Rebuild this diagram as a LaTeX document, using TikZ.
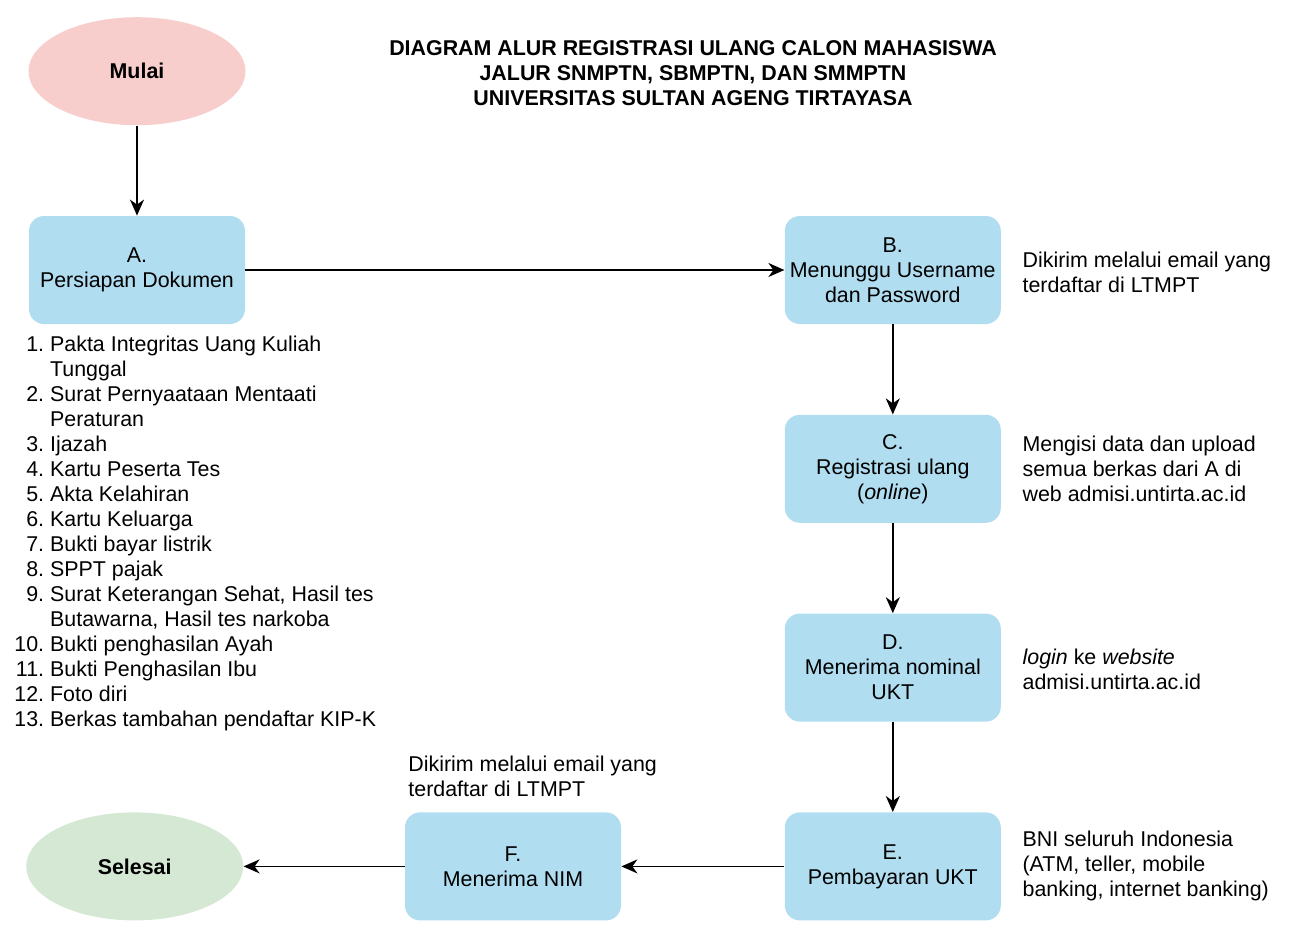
\documentclass[tikz,border=0pt]{standalone}
\usepackage{fontspec}
\setmainfont{Liberation Sans}
\usetikzlibrary{shapes.geometric,arrows.meta,positioning}
\definecolor{mulaipink}{HTML}{F8CECC}
\definecolor{langkahblue}{HTML}{B1DDF0}
\definecolor{selesaigreen}{HTML}{D5E8D4}

\begin{document}
\begin{tikzpicture}[x=0.5pt,y=-0.5pt,
  font=\fontsize{10.7}{12.5}\selectfont,
  langkah/.style={rectangle, rounded corners=7.5pt, fill=langkahblue, minimum width=108pt, minimum height=54pt, align=center, inner sep=0},
  terminal/.style={ellipse, minimum width=108.5pt, minimum height=54pt, inner sep=0, font=\fontsize{10.7}{12.5}\selectfont\bfseries},
  catatan/.style={align=left, inner sep=0},
  alur/.style={-{Stealth[length=8pt,width=7pt,inset=2.5pt]}, line width=0.9pt}]

\useasboundingbox (0,0) rectangle (1291,942);

% judul
\node[align=center, font=\fontsize{10.7}{12.5}\selectfont\bfseries] (judul) at (693,73)
  {DIAGRAM ALUR REGISTRASI ULANG CALON MAHASISWA\\JALUR SNMPTN, SBMPTN, DAN SMMPTN\\UNIVERSITAS SULTAN AGENG TIRTAYASA};

% langkah-langkah
\node[langkah] (A) at (137,270) {A.\\Persiapan Dokumen};
\node[terminal, fill=mulaipink, above=45pt of A] (mulai) {Mulai};
\node[langkah, right=269.5pt of A] (B) {B.\\Menunggu Username\\dan Password};
\node[langkah, below=45pt of B] (C) {C.\\Registrasi ulang\\(\textit{online})};
\node[langkah, below=45pt of C] (D) {D.\\Menerima nominal\\UKT};
\node[langkah, below=45pt of D] (E) {E.\\Pembayaran UKT};
\node[langkah, left=81.5pt of E] (F) {F.\\Menerima NIM};
\node[terminal, fill=selesaigreen, left=80.5pt of F] (selesai) {Selesai};

% catatan
\node[catatan, right=10.5pt of B, yshift=-1pt] (catB) {Dikirim melalui email yang\\terdaftar di LTMPT};
\node[catatan, right=10.5pt of C] (catC) {Mengisi data dan upload\\semua berkas dari A di\\web admisi.untirta.ac.id};
\node[catatan, right=10.5pt of D, yshift=-1pt] (catD) {\textit{login} ke \textit{website}\\admisi.untirta.ac.id};
\node[catatan, right=10.5pt of E] (catE) {BNI seluruh Indonesia\\(ATM, teller, mobile\\banking, internet banking)};
\node[catatan, anchor=west] (catF) at (408,776) {Dikirim melalui email yang\\terdaftar di LTMPT};

\node[catatan, anchor=north west] (berkas) at (14,334) {%
  \begin{tabular}{@{}r@{\hspace{3pt}}l@{}}
  1. & Pakta Integritas Uang Kuliah\\
     & Tunggal\\
  2. & Surat Pernyaataan Mentaati\\
     & Peraturan\\
  3. & Ijazah\\
  4. & Kartu Peserta Tes\\
  5. & Akta Kelahiran\\
  6. & Kartu Keluarga\\
  7. & Bukti bayar listrik\\
  8. & SPPT pajak\\
  9. & Surat Keterangan Sehat, Hasil tes\\
     & Butawarna, Hasil tes narkoba\\
  10. & Bukti penghasilan Ayah\\
  11. & Bukti Penghasilan Ibu\\
  12. & Foto diri\\
  13. & Berkas tambahan pendaftar KIP-K
  \end{tabular}};

% panah
\draw[alur] (mulai) -- (A);
\draw[alur] (A) -- (B);
\draw[alur] (B) -- (C);
\draw[alur] (C) -- (D);
\draw[alur] (D) -- (E);
\draw[alur] (E) -- (F);
\draw[alur] (F) -- (selesai);
\end{tikzpicture}
\end{document}
